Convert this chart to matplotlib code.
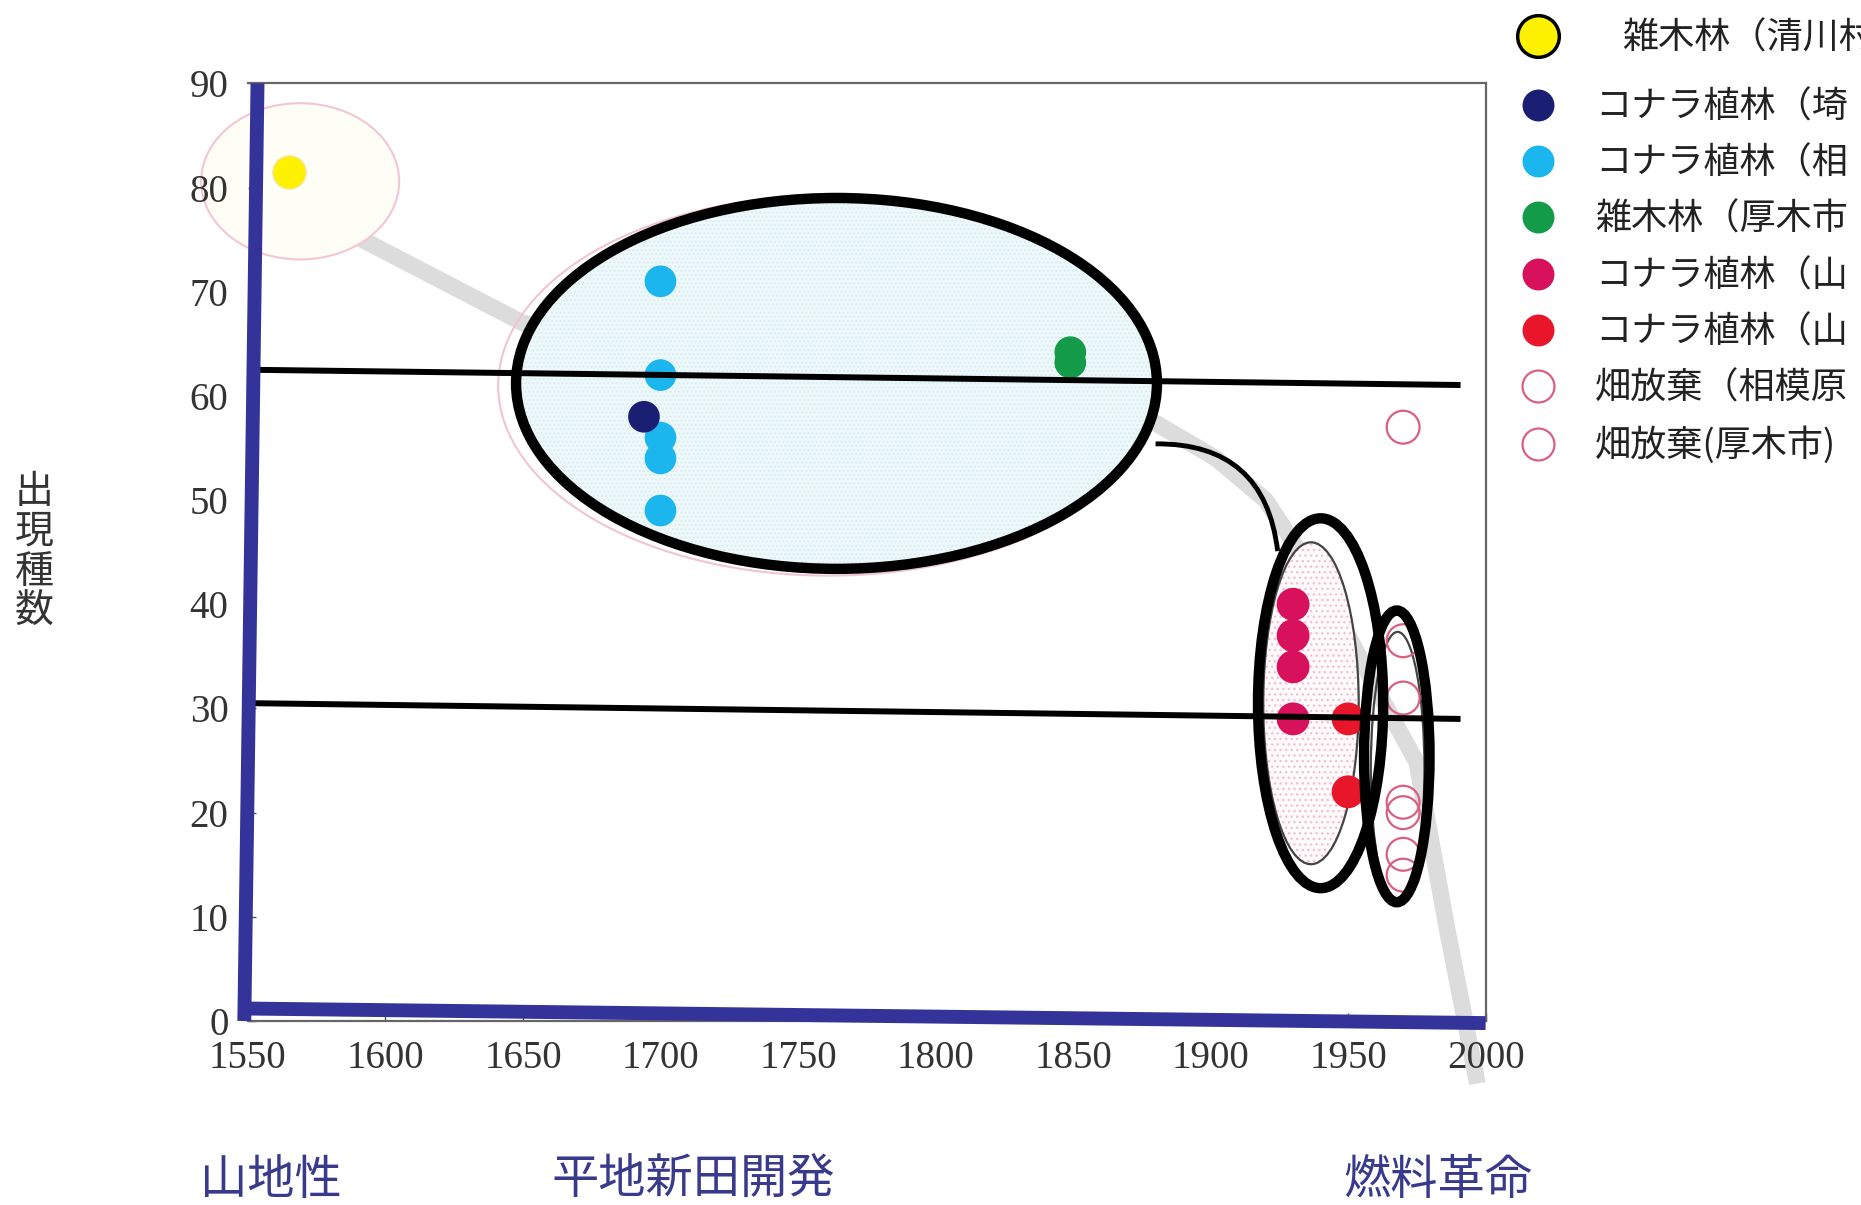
import matplotlib
matplotlib.use('Agg')
import matplotlib.pyplot as plt
from matplotlib.patches import Ellipse, PathPatch
from matplotlib.path import Path
from matplotlib.lines import Line2D

plt.rcParams['font.family'] = ['Noto Sans CJK JP', 'DejaVu Sans']
plt.rcParams['hatch.linewidth'] = 1.0

# ---------------- data ----------------
yellow_x = [1565]; yellow_y = [81.5]
navy_x = [1694]; navy_y = [58]
sky_x = [1700, 1700, 1700, 1700, 1700]; sky_y = [71, 62, 56, 54, 49]
green_x = [1849, 1849]; green_y = [64.2, 63.2]
magenta_x = [1930, 1930, 1930, 1930]; magenta_y = [40, 37, 34, 29]
red_x = [1950, 1950]; red_y = [29, 22]
open1_x = [1970, 1970, 1970]; open1_y = [36.5, 31, 21]
open2_x = [1970, 1970, 1970, 1970]; open2_y = [57, 20, 16, 14]

legend_labels = ['雑木林（清川村', 'コナラ植林（埼', 'コナラ植林（相', '雑木林（厚木市',
                 'コナラ植林（山', 'コナラ植林（山', '畑放棄（相模原', '畑放棄(厚木市)']

x_ticks = [1550, 1600, 1650, 1700, 1750, 1800, 1850, 1900, 1950, 2000]
y_ticks = [0, 10, 20, 30, 40, 50, 60, 70, 80, 90]

# trend band (hand drawn guide)
band_x = [1588, 1650, 1760, 1880, 1902, 1920, 1940, 1960, 1975, 1986, 1997]
band_y = [75.5, 67, 62, 57.4, 54, 50, 42, 32, 24.8, 8.8, -6]

era_labels = ['山地性', '平地新田開発', '燃料革命']

# ---------------- figure ----------------
fig = plt.figure(figsize=(18.61, 12.05), dpi=100)
ax = fig.add_axes([0.1332, 0.1527, 0.6651, 0.7781])
ax.set_xlim(1550, 2000)
ax.set_ylim(0, 90)

for s in ['top', 'right', 'bottom']:
    ax.spines[s].set_color('#666666')
    ax.spines[s].set_linewidth(1.6)
ax.spines['left'].set_visible(False)

ax.set_xticks(x_ticks)
ax.set_yticks(y_ticks)
ax.tick_params(direction='in', length=6, width=1, color='#555555',
               labelsize=28, labelcolor='#333333', pad=14)
for lab in ax.get_xticklabels() + ax.get_yticklabels():
    lab.set_family('Liberation Serif')

# trend band
ax.plot(band_x, band_y, color='#dcdcdc', lw=12, solid_capstyle='butt',
        zorder=1.0, clip_on=False)

# yellow zone
ax.add_patch(Ellipse((1569, 80.6), 72, 15, facecolor='#fffef6',
                     edgecolor='#f2c6d3', lw=1.5, zorder=1.1, clip_on=False))

# big ellipse zone
ax.add_patch(Ellipse((1761, 61.0), 240, 36.5, facecolor='none',
                     edgecolor='#f0c4d2', lw=1.5, zorder=2))
ax.add_patch(Ellipse((1764, 61.2), 233, 35.6, facecolor='#eef8fa',
                     edgecolor='#d9eef2', hatch='....', lw=0, zorder=2))
ax.add_patch(Ellipse((1764, 61.2), 233, 35.6, facecolor='none',
                     edgecolor='black', lw=7.5, zorder=6))

# tall ellipse 1
ax.add_patch(Ellipse((1936.5, 30.5), 34.7, 30.9, facecolor='#fffafb',
                     edgecolor='#f1c3d1', hatch='...', lw=0, zorder=2))
ax.add_patch(Ellipse((1936.5, 30.5), 34.7, 30.9, facecolor='none',
                     edgecolor='#444444', lw=1.6, zorder=3))
ax.add_patch(Ellipse((1940, 30.5), 45.5, 35.5, facecolor='none',
                     edgecolor='black', lw=7.5, zorder=6))

# tall ellipse 2
ax.add_patch(Ellipse((1968, 24.2), 19.5, 26.3, facecolor='none',
                     edgecolor='#444444', lw=1.6, zorder=3))
ax.add_patch(Ellipse((1967.7, 25.4), 23.8, 28, facecolor='none',
                     edgecolor='black', lw=7.5, zorder=6))

# connector arc
conn = Path([(1880, 55.4), (1919.7, 55.5), (1924.4, 45.1)],
            [Path.MOVETO, Path.CURVE3, Path.CURVE3])
ax.add_patch(PathPatch(conn, facecolor='none', edgecolor='black', lw=3.5, zorder=6))

# horizontal reference lines
ax.plot([1554.3, 1989.8], [62.5, 61.05], color='black', lw=4.3, zorder=6)
ax.plot([1553.5, 1989.8], [30.5, 29.0], color='black', lw=4.3, zorder=6)

# data points
ax.scatter(yellow_x, yellow_y, s=570, color='#fff200', edgecolors='#f3e59a',
           linewidths=1, zorder=5)
ax.scatter(sky_x, sky_y, s=520, color='#1cb6ef', edgecolors='none', zorder=5)
ax.scatter(navy_x, navy_y, s=520, color='#1b1f73', edgecolors='none', zorder=5)
ax.scatter(green_x, green_y, s=520, color='#139b4a', edgecolors='none', zorder=5)
ax.scatter(magenta_x, magenta_y, s=560, color='#d8115c', edgecolors='none', zorder=5)
ax.scatter(red_x, red_y, s=560, color='#e8152b', edgecolors='none', zorder=5)
ax.scatter(open1_x, open1_y, s=560, facecolors='none', edgecolors='#d9607f',
           linewidths=1.6, zorder=5)
ax.scatter(open2_x, open2_y, s=560, facecolors='none', edgecolors='#d9607f',
           linewidths=1.6, zorder=5)

# hand-drawn blue axes
ax.plot([1553.5, 1548.7], [90, 0], color='#333399', lw=10,
        solid_capstyle='butt', zorder=7, clip_on=False)
ax.plot([1548.7, 2000], [1.2, -0.2], color='#333399', lw=10,
        solid_capstyle='butt', zorder=7, clip_on=False)

# y label (stacked characters)
fig.text(0.0185, 0.542, '出\n現\n種\n数', fontsize=28, color='#333333',
         ha='center', va='center', linespacing=1.0)

# era labels
for x, t in zip([0.1075, 0.2964, 0.722], era_labels):
    fig.text(x, 0.020, t, fontsize=34, color='#3a3a8c', ha='left', va='center')

# legend
handles = [
    Line2D([], [], ls='none', marker='o', ms=30, mfc='#fff200', mec='black', mew=2.5),
    Line2D([], [], ls='none', marker='o', ms=23, mfc='#1b1f73', mec='none'),
    Line2D([], [], ls='none', marker='o', ms=23, mfc='#1cb6ef', mec='none'),
    Line2D([], [], ls='none', marker='o', ms=23, mfc='#139b4a', mec='none'),
    Line2D([], [], ls='none', marker='o', ms=23, mfc='#d8115c', mec='none'),
    Line2D([], [], ls='none', marker='o', ms=23, mfc='#e8152b', mec='none'),
    Line2D([], [], ls='none', marker='o', ms=23, mfc='none', mec='#d9607f', mew=1.6),
    Line2D([], [], ls='none', marker='o', ms=23, mfc='none', mec='#d9607f', mew=1.6),
]
leg1 = fig.legend(handles[:1], legend_labels[:1], loc='upper left',
                  bbox_to_anchor=(0.8165, 0.983), frameon=False, fontsize=26,
                  handlelength=1.0, handletextpad=1.85,
                  borderpad=0, borderaxespad=0)
leg2 = fig.legend(handles[1:], legend_labels[1:], loc='upper left',
                  bbox_to_anchor=(0.8165, 0.9257), frameon=False, fontsize=26,
                  handlelength=1.0, handletextpad=1.1, labelspacing=0.56,
                  borderpad=0, borderaxespad=0)
for leg in (leg1, leg2):
    for t in leg.get_texts():
        t.set_color('#222222')

fig.savefig('out.png', dpi=100)
